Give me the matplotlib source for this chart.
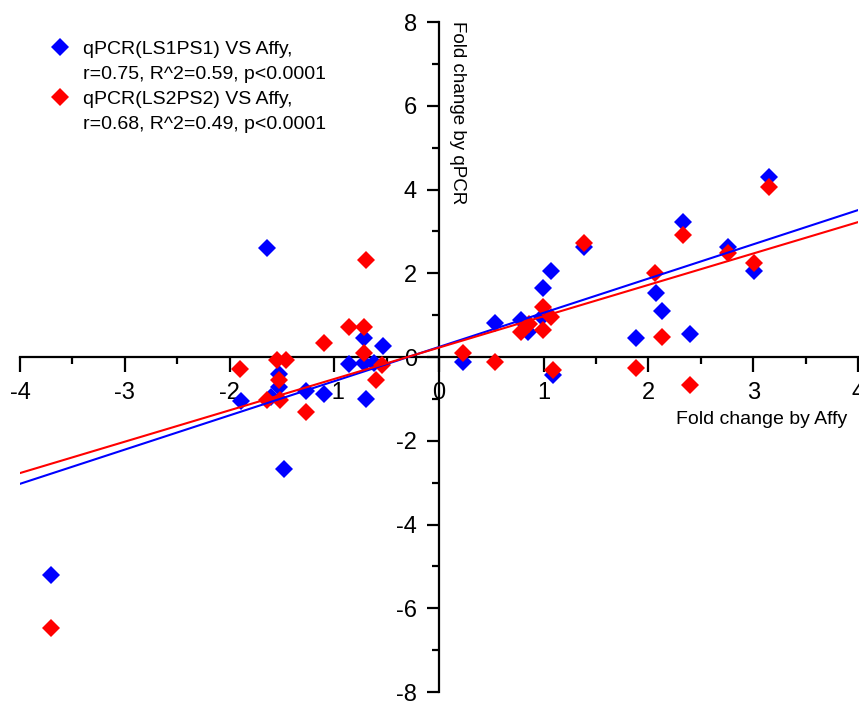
import numpy as np
import matplotlib.pyplot as plt
from matplotlib.lines import Line2D

plt.rcParams['font.family'] = ['Liberation Sans', 'DejaVu Sans']

# qPCR (LS1PS1) vs Affy
blue_x = [-3.70, -1.64, -1.89, -1.48, -1.53, -1.53, -1.27, -1.10, -0.86, -0.72, -0.72, -0.53, -0.70, -0.62, -1.60,
          0.23, 0.53, 0.78, 0.85, 0.99, 1.07, 0.98, 1.09, 1.38, 1.88, 2.07, 2.13, 2.33, 2.40, 2.76, 3.01, 3.15]
blue_y = [-5.20, 2.60, -1.05, -2.67, -0.41, -0.72, -0.81, -0.88, -0.17, 0.45, -0.14, 0.26, -1.00, -0.15, -0.95,
          -0.12, 0.81, 0.88, 0.60, 1.65, 2.05, 0.95, -0.43, 2.62, 0.45, 1.53, 1.10, 3.22, 0.55, 2.62, 2.05, 4.30]

# qPCR (LS2PS2) vs Affy
red_x = [-3.70, -1.90, -1.55, -1.46, -1.53, -1.64, -1.52, -1.27, -1.10, -0.86, -0.72, -0.70, -0.72, -0.54, -0.60,
         0.23, 0.53, 0.78, 0.86, 0.99, 0.99, 1.07, 1.09, 1.38, 1.88, 2.06, 2.13, 2.33, 2.40, 2.76, 3.01, 3.15]
red_y = [-6.47, -0.29, -0.07, -0.07, -0.55, -1.03, -1.03, -1.31, 0.33, 0.72, 0.72, 2.32, 0.10, -0.19, -0.55,
         0.10, -0.12, 0.60, 0.80, 1.19, 0.64, 0.95, -0.31, 2.72, -0.26, 2.00, 0.48, 2.91, -0.67, 2.48, 2.25, 4.07]

# linear fits (slope, intercept) as drawn
blue_fit = (0.817, 0.24)
red_fit = (0.749, 0.225)

labels = ["qPCR(LS1PS1) VS Affy,", "r=0.75, R^2=0.59, p<0.0001",
          "qPCR(LS2PS2) VS Affy,", "r=0.68, R^2=0.49, p<0.0001"]

blue = '#0000ff'
red = '#ff0000'

fig = plt.figure(figsize=(8.59, 7.03), dpi=100)
ax = fig.add_axes([0.0233, 0.0156, 0.9755, 0.9531])
ax.set_xlim(-4, 4)
ax.set_ylim(-8, 8)

ax.plot(blue_x, blue_y, 'D', color=blue, ms=9.5, mew=0, zorder=3, clip_on=False)
ax.plot(red_x, red_y, 'D', color=red, ms=9.5, mew=0, zorder=4, clip_on=False)

xx = np.array([-4, 4])
ax.plot(xx, blue_fit[0] * xx + blue_fit[1], color=blue, lw=1.5, zorder=5)
ax.plot(xx, red_fit[0] * xx + red_fit[1], color=red, lw=1.5, zorder=6)

# axes crossing at origin
for s in ['top', 'right']:
    ax.spines[s].set_visible(False)
ax.spines['left'].set_position(('data', 0))
ax.spines['bottom'].set_position(('data', 0))
ax.spines['left'].set_linewidth(1.6)
ax.spines['bottom'].set_linewidth(1.6)

ax.set_xticks(np.arange(-4, 5, 1))
ax.set_xticks(np.arange(-3.5, 4, 1), minor=True)
ax.set_yticks(np.arange(-8, 9, 2))
ax.set_yticks(np.arange(-7, 8, 2), minor=True)
ax.tick_params(axis='x', which='major', direction='out', length=11, width=1.6, labelsize=17, pad=7)
ax.tick_params(axis='x', which='minor', direction='out', length=5, width=1.6)
ax.tick_params(axis='y', which='major', direction='out', length=9, width=1.6, labelsize=17, pad=7)
ax.tick_params(axis='y', which='minor', direction='out', length=5, width=1.6)
ax.set_xticklabels([str(v) for v in range(-4, 5)])
ax.set_yticklabels([str(v) for v in range(-8, 9, 2)])

ax.text(3.08, -1.5, "Fold change by Affy", ha='center', va='center', fontsize=14)
ax.text(0.18, 8.02, "Fold change by qPCR", ha='center', va='top', rotation=270, fontsize=13.5)

blank = Line2D([], [], linestyle='none')
hb = Line2D([], [], linestyle='none', marker='D', color=blue, ms=9.5, mew=0)
hr = Line2D([], [], linestyle='none', marker='D', color=red, ms=9.5, mew=0)
fig.legend([hb, blank, hr, blank], labels, loc='upper left', bbox_to_anchor=(0.056, 0.943),
           frameon=False, fontsize=14, labelspacing=0.38, handletextpad=0.57, handlelength=1.2,
           borderpad=0, borderaxespad=0)

fig.savefig('out.png', dpi=100)
